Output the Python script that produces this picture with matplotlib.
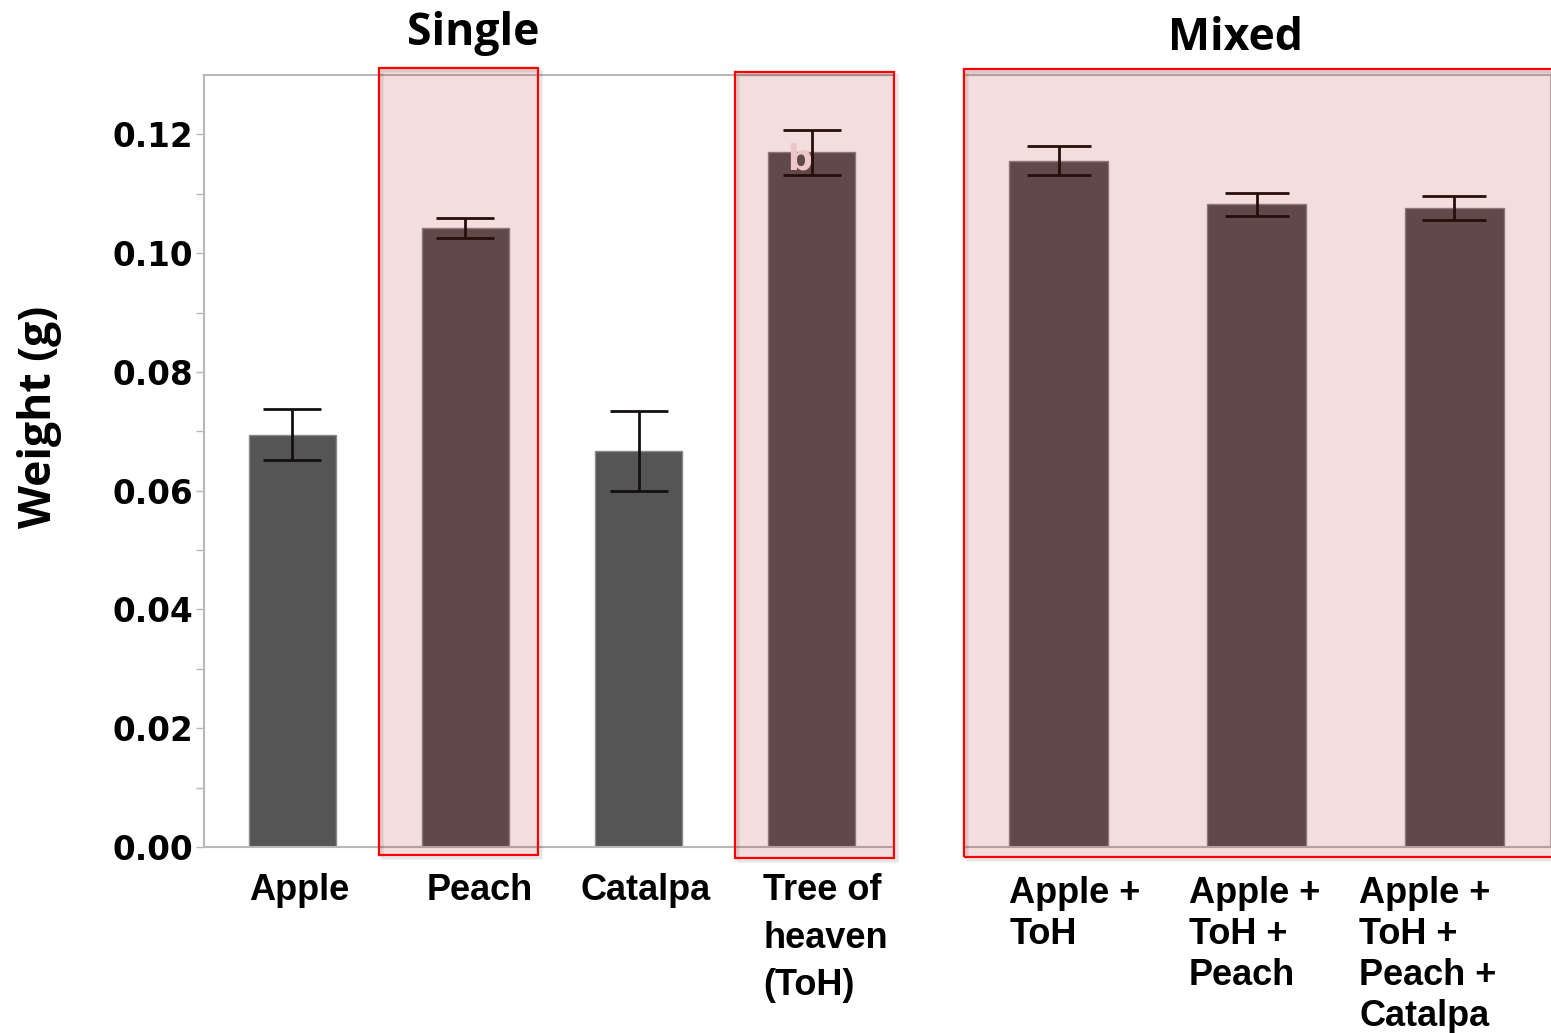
import matplotlib
matplotlib.use("Agg")
import matplotlib.pyplot as plt
from matplotlib.patches import Rectangle
from matplotlib.transforms import ScaledTranslation
import numpy as np

# Leaf-disc weights, single-species and mixed diets
single_labels = ["Apple", "Peach", "Catalpa", "Tree of\nheaven\n(ToH)"]
single_means = [0.0694, 0.1043, 0.0667, 0.1170]
single_se = [0.0043, 0.0017, 0.0068, 0.0038]

mixed_labels = ["Apple +\nToH", "Apple +\nToH +\nPeach", "Apple +\nToH +\nPeach +\nCatalpa"]
mixed_means = [0.1156, 0.1082, 0.1076]
mixed_se = [0.0024, 0.0020, 0.0020]

y_ticks = [0.00, 0.02, 0.04, 0.06, 0.08, 0.10, 0.12]
y_max = 0.130

W, H = 1551, 1033
fig = plt.figure(figsize=(W / 100, H / 100), dpi=100)


def fx(px):
    return px / W


def fy(py):
    return 1 - py / H


bar_color = "#555555"
edge_color = "#8a8a8a"
spine_color = "#b8b8b8"
label_font = dict(family="Liberation Sans", weight="bold", size=26)
tick_font = dict(family="DejaVu Sans", weight="bold", size=23.5)
head_font = dict(family="Open Sans", weight="bold", size=32)


def shift_labels(ax, offsets_px, spacing):
    # nudge each multi-line category label sideways (pixels at 100 dpi)
    for lab, dx in zip(ax.get_xticklabels(), offsets_px):
        lab.set_linespacing(spacing)
        lab.set_transform(lab.get_transform() + ScaledTranslation(dx / 100, 0, fig.dpi_scale_trans))


# ---- single-species panel ----
ax1 = fig.add_axes([fx(204), fy(847), fx(893) - fx(204), fy(75) - fy(847)])
x1 = np.arange(len(single_means))
ax1.bar(x1, single_means, width=0.5, color=bar_color, edgecolor=edge_color, linewidth=1, zorder=2)
ax1.errorbar(x1, single_means, yerr=single_se, fmt="none", ecolor="#151010",
             elinewidth=2, capsize=21, capthick=2, zorder=3)
ax1.set_xlim(-0.51, 3.47)
ax1.set_ylim(0, y_max)
ax1.set_yticks(y_ticks)
ax1.set_yticklabels([f"{v:.2f}" for v in y_ticks], **tick_font)
ax1.set_yticks(np.arange(0.01, 0.13, 0.02), minor=True)
ax1.tick_params(axis="y", which="both", length=6, width=1, color=spine_color, pad=2)
ax1.set_xticks(x1)
ax1.set_xticklabels(single_labels, va="top", multialignment="left", **label_font)
ax1.tick_params(axis="x", length=0, pad=19)
shift_labels(ax1, [7, 14, 7, 14], 1.45)
for s in ["left", "top", "bottom"]:
    ax1.spines[s].set_color(spine_color)
    ax1.spines[s].set_linewidth(1.5)
ax1.spines["right"].set_visible(False)

# ---- mixed-diet panel ----
ax2 = fig.add_axes([fx(964), fy(847), fx(1551) - fx(964), fy(75) - fy(847)])
x2 = np.arange(len(mixed_means))
ax2.bar(x2, mixed_means, width=0.5, color=bar_color, edgecolor=edge_color, linewidth=1, zorder=2)
ax2.errorbar(x2, mixed_means, yerr=mixed_se, fmt="none", ecolor="#151010",
             elinewidth=2, capsize=23, capthick=2, zorder=3)
ax2.set_xlim(-0.48, 2.49)
ax2.set_ylim(0, y_max)
ax2.set_yticks([])
ax2.set_xticks(x2)
ax2.set_xticklabels(mixed_labels, va="top", multialignment="left", **label_font)
ax2.tick_params(axis="x", length=0, pad=21)
shift_labels(ax2, [16, -2, -26], 1.22)
for s in ["top", "bottom", "right"]:
    ax2.spines[s].set_color(spine_color)
    ax2.spines[s].set_linewidth(1.5)
ax2.spines["left"].set_visible(False)

# Small annotation letter on the ToH bar
ax1.text(3 - 0.07, single_means[3] - 0.0013, "b", ha="center", va="center",
         color="#f6e6e6", family="DejaVu Sans", weight="bold", size=25, zorder=2.5)

# Axis title
fig.text(fx(40), fy(417), "Weight (g)", rotation=90, ha="center", va="center", **head_font)


# ---- highlight boxes ----
def highlight(x0, y0, x1_, y1_):
    w, h = fx(x1_) - fx(x0), fy(y0) - fy(y1_)
    for k, a in ((3, 0.05), (2, 0.05)):
        fig.add_artist(Rectangle((fx(x0) + k / W, fy(y1_) - k / H), w, h,
                                 transform=fig.transFigure, facecolor="none",
                                 edgecolor="#000000", alpha=a, linewidth=2, zorder=9))
    fig.add_artist(Rectangle((fx(x0), fy(y1_)), w, h, transform=fig.transFigure,
                             facecolor="#b00000", alpha=0.135, edgecolor="none", zorder=10))
    fig.add_artist(Rectangle((fx(x0), fy(y1_)), w, h, transform=fig.transFigure,
                             facecolor="none", edgecolor="#ff0000", linewidth=1.6, zorder=11))


highlight(379, 68, 538, 855)
highlight(735, 72, 894, 858)
highlight(964, 69, 1556, 857)

# ---- panel headings ----
fig.text(fx(473), fy(34), "Single", ha="center", va="center", **head_font)
fig.text(fx(1236), fy(39), "Mixed", ha="center", va="center", **head_font)

fig.savefig("out.png", dpi=100)
